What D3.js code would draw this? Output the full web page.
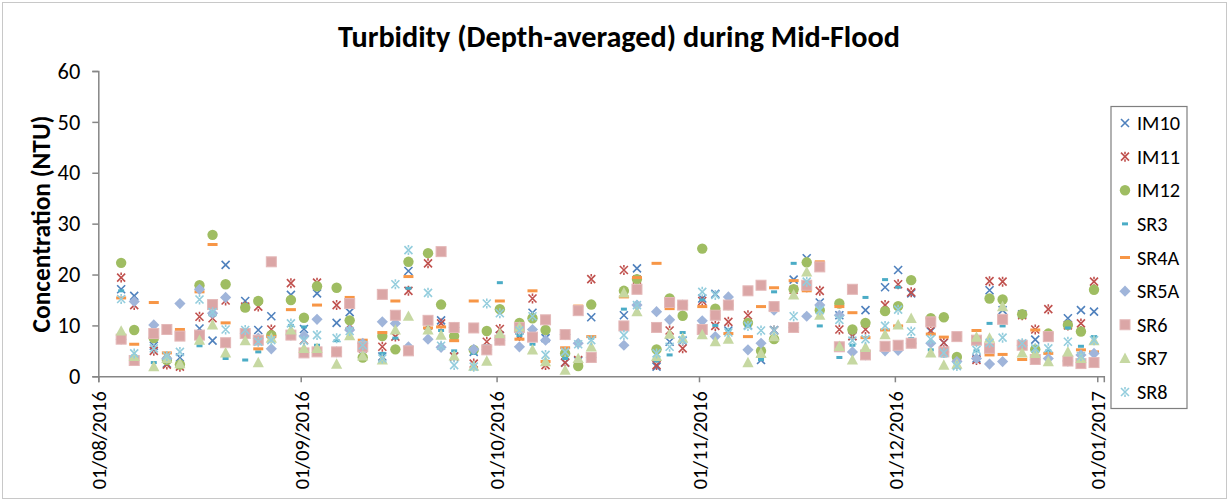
<!DOCTYPE html>
<html><head><meta charset="utf-8">
<script src="https://cdn.jsdelivr.net/npm/d3@7"></script>
<style>
body{margin:0;background:#fff}
svg{display:block}
text{font-family:Carlito, Calibri, "Liberation Sans", Arial, sans-serif; fill:#000}
</style>
</head><body>
<svg id="chart" width="1230" height="502"></svg>
<script>
// ---------------- data ----------------
const sampleDates = ["2016-08-04","2016-08-06","2016-08-09","2016-08-11","2016-08-13","2016-08-16","2016-08-18","2016-08-20","2016-08-23","2016-08-25","2016-08-27","2016-08-30",
"2016-09-01","2016-09-03","2016-09-06","2016-09-08","2016-09-10","2016-09-13","2016-09-15","2016-09-17","2016-09-20","2016-09-22","2016-09-24","2016-09-27","2016-09-29",
"2016-10-01","2016-10-04","2016-10-06","2016-10-08","2016-10-11","2016-10-13","2016-10-15","2016-10-20","2016-10-22","2016-10-25","2016-10-27","2016-10-29",
"2016-11-01","2016-11-03","2016-11-05","2016-11-08","2016-11-10","2016-11-12","2016-11-15","2016-11-17","2016-11-19","2016-11-22","2016-11-24","2016-11-26","2016-11-29",
"2016-12-01","2016-12-03","2016-12-06","2016-12-08","2016-12-10","2016-12-13","2016-12-15","2016-12-17","2016-12-20","2016-12-22","2016-12-24","2016-12-27","2016-12-29","2016-12-31"];
const sampleTime = "12:00";

const IM10 = [17.1,15.8,6.0,2.5,3.7,9.4,7.0,21.9,14.8,9.1,11.8,16.0,9.3,16.3,10.5,12.6,6.1,3.9,11.0,20.7,10.0,11.0,3.9,4.8,5.5,8.0,9.0,12.5,7.5,2.7,3.0,11.6,12.0,21.2,1.9,6.8,7.0,15.3,16.2,9.0,10.0,3.2,9.1,19.0,23.2,14.5,12.0,7.9,13.0,17.5,20.9,16.3,8.8,6.6,2.2,3.5,16.9,13.0,12.2,7.2,8.0,11.4,13.0,12.7];
const IM11 = [19.4,14.0,5.0,2.3,1.9,11.7,11.4,14.9,13.7,13.7,9.2,18.3,7.1,18.4,14.0,10.1,5.5,5.8,7.8,16.8,22.2,10.4,3.9,2.5,6.8,9.3,7.9,15.3,2.2,2.7,3.2,19.1,20.9,19.0,2.2,9.0,5.5,14.8,9.9,10.7,12.0,4.5,9.0,17.0,17.5,16.8,9.2,7.9,9.2,14.0,18.1,16.5,9.0,6.6,2.4,3.2,18.7,18.6,12.0,9.2,13.2,10.0,10.4,18.6];
const IM12 = [22.3,9.1,7.5,3.2,2.3,17.9,27.8,18.1,13.5,14.8,8.1,15.0,11.5,17.7,17.4,11.0,3.7,7.9,5.3,22.5,24.2,14.1,7.9,5.2,8.9,13.2,10.5,11.4,9.1,4.5,2.0,14.1,16.8,19.1,5.3,15.3,11.9,25.1,13.3,14.0,10.5,5.0,7.3,17.1,22.4,13.0,14.3,9.2,10.5,12.8,13.8,18.9,11.4,11.6,3.8,7.0,15.3,15.1,12.2,5.3,8.4,10.1,8.8,17.0];
const SR3  = [16.8,4.0,2.7,4.4,2.2,6.0,12.0,3.5,3.2,4.8,7.0,10.0,9.7,6.1,7.0,7.6,5.0,4.5,7.5,17.3,9.0,9.0,5.0,4.5,6.0,18.4,8.0,6.3,3.0,3.5,6.5,7.5,13.2,12.5,3.0,4.2,8.6,15.0,10.0,9.1,10.0,3.3,16.6,22.2,12.0,9.9,3.7,6.1,15.5,19.0,17.5,7.4,5.2,4.0,2.5,5.0,10.4,9.9,6.0,5.0,5.0,9.5,5.9,7.8];
const SR4A = [15.4,6.3,14.5,4.6,9.2,16.6,25.9,10.5,8.4,5.4,7.8,13.1,4.6,14.0,4.8,15.5,7.1,8.6,14.8,19.6,9.5,9.7,7.0,14.8,5.8,14.8,7.3,16.8,2.9,5.6,13.8,7.8,15.6,19.4,22.2,13.3,14.0,13.7,12.0,8.4,7.8,13.7,17.4,18.8,16.8,22.5,13.7,12.5,7.6,9.1,9.9,6.5,8.3,7.7,7.8,9.0,4.2,4.3,3.3,9.1,4.5,3.0,5.2,4.8];
const SR5A = [7.3,14.7,10.1,3.5,14.3,17.1,12.4,15.5,8.4,7.5,5.4,8.1,7.9,11.2,4.8,9.1,6.5,10.7,10.4,5.8,7.3,5.7,9.6,5.3,5.2,7.1,5.8,9.2,7.1,8.2,6.5,3.7,6.1,14.0,12.7,11.1,14.0,10.9,7.8,15.6,5.2,6.5,13.0,9.6,11.8,14.0,12.0,4.8,4.2,5.0,5.1,6.5,6.5,4.8,2.9,3.5,2.4,2.9,6.1,3.3,3.5,3.0,4.2,4.5];
const SR6  = [7.3,3.1,8.4,9.2,7.9,8.1,14.1,6.6,8.4,7.1,22.5,8.1,4.6,4.8,4.8,14.3,5.8,16.1,12.0,5.0,11.0,24.5,9.6,9.5,5.2,7.1,9.6,7.7,11.1,8.2,12.9,3.7,9.9,17.1,9.6,14.5,14.0,9.2,12.0,14.0,16.8,17.9,13.7,9.6,17.9,21.5,5.8,17.1,4.2,5.9,6.1,6.5,10.7,4.8,7.8,7.1,5.5,11.2,6.1,3.3,7.8,3.0,2.5,2.7];
const SR7  = [8.9,3.9,1.9,3.5,2.5,7.1,10.1,4.6,7.0,2.7,7.5,9.1,5.5,5.5,2.4,8.0,4.0,3.2,9.1,11.8,9.1,8.1,4.0,2.0,3.0,8.4,9.7,5.2,2.9,1.2,3.5,5.8,16.4,12.7,3.9,8.3,7.5,8.2,6.8,7.3,2.7,4.5,7.8,16.0,20.5,12.0,5.9,3.2,5.7,8.2,10.1,11.4,4.6,2.2,2.4,7.7,7.5,13.7,4.6,4.5,2.9,4.8,3.5,7.0];
const SR8  = [15.2,4.5,5.5,4.0,4.8,15.1,12.6,9.2,9.1,6.8,7.1,10.4,7.0,8.1,7.5,8.9,6.1,3.5,18.1,24.8,16.4,6.0,2.2,1.9,14.3,12.4,9.0,11.8,4.2,4.8,6.3,7.1,8.1,14.0,4.5,5.8,7.1,16.6,16.0,8.6,9.9,9.0,9.0,11.8,18.6,13.0,11.1,7.0,7.3,9.9,13.1,8.8,7.3,4.6,2.0,5.2,6.6,7.6,6.5,5.5,5.5,6.8,4.0,7.1];

const seriesNames = ["IM10","IM11","IM12","SR3","SR4A","SR5A","SR6","SR7","SR8"];
const seriesValues = [IM10,IM11,IM12,SR3,SR4A,SR5A,SR6,SR7,SR8];
const yTickValues = [0,10,20,30,40,50,60];
const xTickLabels = ["01/08/2016","01/09/2016","01/10/2016","01/11/2016","01/12/2016","01/01/2017"];
const xDomainLabels = ["01/08/2016","02/01/2017"];
const titleText = "Turbidity (Depth-averaged) during Mid-Flood";
const yTitleText = "Concentration (NTU)";

// ---------------- styles ----------------
const markerStyle = {
  IM10:{type:"x",    color:"#4F81BD"},
  IM11:{type:"star", color:"#C0504D"},
  IM12:{type:"circle",color:"#9FBD62"},
  SR3: {type:"dashS",color:"#4BACC6"},
  SR4A:{type:"dashL",color:"#F79646"},
  SR5A:{type:"diamond",color:"#A0B5DA"},
  SR6: {type:"square",color:"#DBA6A6"},
  SR7: {type:"triangle",color:"#C6D8A2"},
  SR8: {type:"star", color:"#93CDDD"}
};

function drawMarker(g, st){
  const c = st.color;
  switch(st.type){
    case "x":
      g.append("path").attr("d","M-4,-4L4,4M-4,4L4,-4").attr("stroke",c).attr("stroke-width",1.6).attr("fill","none"); break;
    case "star":
      g.append("path").attr("d","M-4,-4L4,4M-4,4L4,-4M0,-5L0,-2.5M0,2.5L0,5").attr("stroke",c).attr("stroke-width",1.6).attr("fill","none"); break;
    case "circle":
      g.append("circle").attr("r",5.2).attr("fill",c); break;
    case "dashS":
      g.append("rect").attr("x",-3).attr("y",-1.5).attr("width",6).attr("height",3).attr("fill",c); break;
    case "dashL":
      g.append("rect").attr("x",-5).attr("y",-1.5).attr("width",10).attr("height",3).attr("fill",c); break;
    case "diamond":
      g.append("path").attr("d","M0,-5.6L5.6,0L0,5.6L-5.6,0Z").attr("fill",c); break;
    case "square":
      g.append("rect").attr("x",-5).attr("y",-5).attr("width",10).attr("height",10).attr("fill",c).attr("stroke","#E4B8B8").attr("stroke-width",1); break;
    case "triangle":
      g.append("path").attr("d","M0,-5.8L5.6,4.6L-5.6,4.6Z").attr("fill",c); break;
  }
}

// ---------------- chart ----------------
const svg = d3.select("#chart");
svg.append("rect").attr("width",1230).attr("height",502).attr("fill","#fff");
svg.append("rect").attr("x",2.5).attr("y",2.5).attr("width",1224).attr("height",496)
   .attr("fill","none").attr("stroke","#c8c8c8").attr("stroke-width",1);

const parseSample = d3.timeParse("%Y-%m-%d %H:%M");
const parseLabel = d3.timeParse("%d/%m/%Y");
const plot = {left:98.3, right:1103.8, top:71, bottom:376.3};

const x = d3.scaleTime().domain(xDomainLabels.map(parseLabel)).range([plot.left, plot.right]);
const y = d3.scaleLinear().domain([0,60]).range([plot.bottom, plot.top]);

const axisColor = "#868686";
const fontFam = 'Carlito, Calibri, "Liberation Sans", Arial, sans-serif';

function fitSize(node, base, target){
  const w = node.getComputedTextLength();
  return base*target/w;
}

// Y axis
const yAxis = svg.append("g").attr("transform",`translate(${plot.left},0)`)
  .call(d3.axisLeft(y).tickValues(yTickValues).tickSize(6).tickPadding(12).tickFormat(d3.format("d")));
yAxis.select(".domain").attr("stroke",axisColor).attr("stroke-width",1.5);
yAxis.selectAll(".tick line").attr("stroke",axisColor).attr("stroke-width",1.5);
yAxis.selectAll(".tick text").attr("font-family",fontFam).attr("font-size",20).attr("fill","#000");
{
  const t = yAxis.selectAll(".tick text").filter(d=>d===60).node();
  const fs = fitSize(t,20,22.7);
  yAxis.selectAll(".tick text").attr("font-size",fs);
}

// X axis
const xTicks = xTickLabels.map(parseLabel);
const xAxis = svg.append("g").attr("transform",`translate(0,${plot.bottom})`)
  .call(d3.axisBottom(x).tickValues(xTicks).tickSize(6).tickFormat((d,i)=>xTickLabels[i]));
xAxis.select(".domain").attr("stroke",axisColor).attr("stroke-width",1.5);
xAxis.selectAll(".tick line").attr("stroke",axisColor).attr("stroke-width",1.5);
xAxis.selectAll(".tick text")
  .attr("font-family",fontFam).attr("font-size",20).attr("fill","#000")
  .attr("text-anchor","end").attr("transform","rotate(-90)")
  .attr("x",-15).attr("y",0).attr("dy","0.36em");
{
  const t = xAxis.select(".tick text").node();
  const fs = fitSize(t,20,98);
  xAxis.selectAll(".tick text").attr("font-size",fs);
}

// Points
const data = seriesNames.map((name,si)=>({name, pts: seriesValues[si].map((v,i)=>({date: parseSample(sampleDates[i]+" "+sampleTime), v}))}));
data.forEach(s=>{
  const st = markerStyle[s.name];
  const g = svg.append("g").attr("class","series-"+s.name);
  g.selectAll("g").data(s.pts.filter(p=>p.v!=null)).join("g")
    .attr("transform",p=>`translate(${x(p.date)},${y(p.v)})`)
    .each(function(){ drawMarker(d3.select(this), st); });
});

// Title
const title = svg.append("text").attr("x",619).attr("y",47).attr("text-anchor","middle")
  .attr("font-family",fontFam).attr("font-weight","bold").attr("font-size",28).text(titleText);
title.attr("font-size", fitSize(title.node(),28,562));

// Y title
const yTitle = svg.append("text").attr("transform","translate(41,224) rotate(-90)")
  .attr("text-anchor","middle").attr("dominant-baseline","central")
  .attr("font-family",fontFam).attr("font-weight","bold").attr("font-size",24).text(yTitleText);
yTitle.attr("font-size", fitSize(yTitle.node(),24,217));

// Legend
const legend = svg.append("g");
legend.append("rect").attr("x",1111).attr("y",106.5).attr("width",76).attr("height",302)
  .attr("fill","#fff").attr("stroke","#7f7f7f").attr("stroke-width",1.2);
const legStep = (392-123)/8;
const items = legend.selectAll("g.item").data(seriesNames).join("g").attr("class","item")
  .attr("transform",(d,i)=>`translate(0,${123+i*legStep})`);
items.each(function(d){
  const m = d3.select(this).append("g").attr("transform","translate(1125,0)");
  drawMarker(m, markerStyle[d]);
});
const legTexts = items.append("text").attr("x",1137).attr("y",0).attr("dy","0.35em")
  .attr("font-family",fontFam).attr("font-size",20).text(d=>d);
{
  const fs = fitSize(legTexts.node(),20,43);
  legTexts.attr("font-size",fs);
}
</script>
</body></html>
